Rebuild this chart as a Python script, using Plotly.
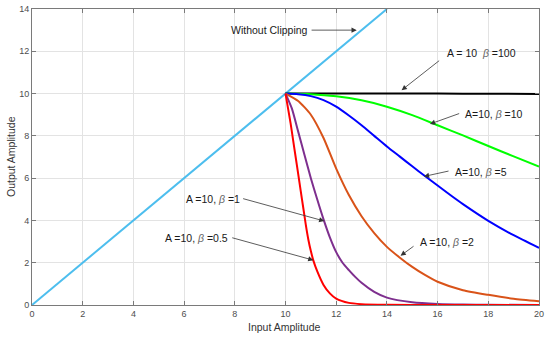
import plotly.graph_objects as go

# ---- data ----
lin_x = [0, 14]
lin_y = [0, 14]

b100_x = [10, 12, 14, 16, 18, 20]
b100_y = [10, 10, 10, 10, 9.99, 9.98]

b10_x = [10, 11, 12, 13, 14, 15, 16, 17, 18, 19, 20]
b10_y = [10, 9.97, 9.87, 9.68, 9.38, 8.98, 8.5, 8.02, 7.52, 7.03, 6.55]

b5_x = [10, 10.5, 11, 11.5, 12, 12.5, 13, 13.5, 14, 14.5, 15, 15.5, 16, 16.5, 17, 18, 19, 20]
b5_y = [10, 9.97, 9.88, 9.69, 9.38, 8.96, 8.5, 8.0, 7.5, 7.03, 6.56, 6.1, 5.65, 5.2, 4.77, 3.98, 3.3, 2.7]

b2_x = [10, 10.5, 11, 11.5, 12, 12.5, 13, 13.5, 14, 14.5, 15, 15.5, 16, 17, 18, 19, 20]
b2_y = [10, 9.65, 9.0, 7.9, 6.45, 5.2, 4.2, 3.4, 2.75, 2.25, 1.8, 1.42, 1.1, 0.7, 0.48, 0.3, 0.18]

b1_x = [10, 10.25, 10.5, 10.75, 11, 11.25, 11.5, 11.75, 12, 12.25, 12.5, 12.75, 13, 13.5, 14, 15, 16, 17, 18, 20]
b1_y = [10, 9.3, 8.2, 7.1, 6.0, 5.0, 4.05, 3.2, 2.5, 2.0, 1.65, 1.33, 1.05, 0.62, 0.35, 0.13, 0.05, 0.02, 0.01, 0.0]

b05_x = [10, 10.1, 10.2, 10.3, 10.4, 10.5, 10.6, 10.7, 10.8, 10.9, 11.0, 11.1, 11.25, 11.5, 11.75, 12, 12.5, 13, 14, 16, 20]
b05_y = [10, 9.3, 8.6, 7.8, 7.0, 6.2, 5.4, 4.6, 3.8, 3.1, 2.55, 2.1, 1.6, 0.95, 0.55, 0.3, 0.1, 0.04, 0.01, 0.0, 0.0]

x_ticks = [0, 2, 4, 6, 8, 10, 12, 14, 16, 18, 20]
y_ticks = [0, 2, 4, 6, 8, 10, 12, 14]

FONT = "Arial, Liberation Sans, sans-serif"

fig = go.Figure()

series = [
    (lin_x, lin_y, "#4DBEEE", "Without Clipping", "linear"),
    (b100_x, b100_y, "#000000", "β=100", "spline"),
    (b10_x, b10_y, "#00FF00", "β=10", "spline"),
    (b5_x, b5_y, "#0000FF", "β=5", "spline"),
    (b2_x, b2_y, "#D95319", "β=2", "spline"),
    (b1_x, b1_y, "#7E2F8E", "β=1", "spline"),
    (b05_x, b05_y, "#FF0000", "β=0.5", "spline"),
]
for xs, ys, col, name, shape in series:
    fig.add_trace(go.Scatter(x=xs, y=ys, mode="lines", name=name,
                             line=dict(color=col, width=2, shape=shape, smoothing=0.6)))

B = "<span style='color:#666'><i>β</i></span>"
labels = [
    ("Without Clipping", 10.97, 13.0, "right"),
    ("A = 10  " + B + " =100", 16.29, 11.93, "left"),
    ("A=10, " + B + " =10", 17.01, 9.04, "left"),
    ("A=10, " + B + " =5", 16.62, 6.31, "left"),
    ("A =10, " + B + " =2", 15.24, 2.99, "left"),
    ("A =10, " + B + " =1", 8.27, 5.0, "right"),
    ("A =10, " + B + " =0.5", 7.81, 3.15, "right"),
]
for txt, x, y, anc in labels:
    fig.add_annotation(x=x, y=y, text=txt, showarrow=False, xanchor=anc, yanchor="middle",
                       font=dict(family=FONT, size=10.5, color="#1a1a1a"))

arrows = [
    (10.97, 13.0, 12.81, 13.0),
    (16.12, 11.61, 14.58, 10.16),
    (16.91, 9.08, 15.7, 8.56),
    (16.49, 6.35, 15.46, 6.08),
    (15.11, 2.83, 14.54, 2.33),
    (8.27, 5.05, 11.53, 3.97),
    (7.84, 3.2, 11.1, 2.12),
]
for ax, ay, x, y in arrows:
    fig.add_annotation(x=x, y=y, ax=ax, ay=ay, xref="x", yref="y", axref="x", ayref="y",
                       text="", showarrow=True, arrowhead=2, arrowsize=1.3,
                       arrowwidth=0.8, arrowcolor="#333333")

# axis titles
fig.add_annotation(x=-0.0414, y=0.5, xref="paper", yref="paper", text="Output Amplitude",
                   textangle=-90, showarrow=False, xanchor="center", yanchor="middle",
                   font=dict(family=FONT, size=10.5, color="#333333"))
fig.add_annotation(x=0.499, y=-0.074, xref="paper", yref="paper", text="Input Amplitude",
                   showarrow=False, xanchor="center", yanchor="middle",
                   font=dict(family=FONT, size=10.5, color="#333333"))

axis_common = dict(showgrid=True, gridcolor="#e3e3e3", gridwidth=1, zeroline=False,
                   showline=True, linecolor="#7a7a7a", linewidth=1, mirror="ticks",
                   ticks="inside", ticklen=4, tickcolor="#7a7a7a", automargin=False,
                   tickfont=dict(family=FONT, size=9, color="#4d4d4d"))

fig.update_xaxes(range=[0, 20], tickvals=x_ticks, **axis_common)
fig.update_yaxes(range=[0, 14], tickvals=y_ticks, **axis_common)

fig.update_layout(width=550, height=340, showlegend=False,
                  margin=dict(l=32, r=11, t=9, b=35),
                  plot_bgcolor="white", paper_bgcolor="white",
                  font=dict(family=FONT))

# remove the browser's default 8px body margin so the figure fills the window
fig.write_html("out.html", config={"displayModeBar": False},
               post_script="document.body.style.margin='0';document.body.style.overflow='hidden';")
